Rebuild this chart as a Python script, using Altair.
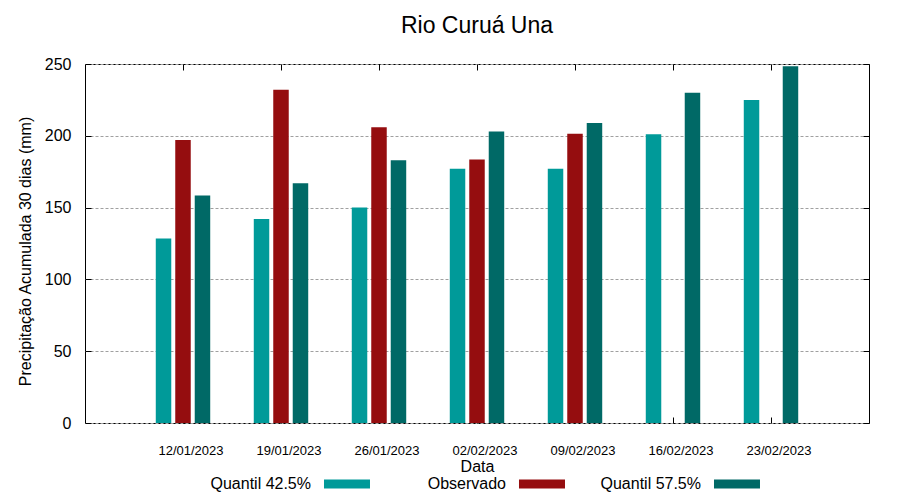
import altair as alt
import pandas as pd

dates = ["12/01/2023", "19/01/2023", "26/01/2023", "02/02/2023",
         "09/02/2023", "16/02/2023", "23/02/2023"]
series = ["Quantil 42.5%", "Observado", "Quantil 57.5%"]
q425 = [128.5, 142, 150, 177, 177, 201, 225]
obs = [197, 232, 206, 183.5, 201.5, None, None]
q575 = [158.5, 167, 183, 203, 209, 230, 248.5]
colors = ["#009a99", "#950d0f", "#006966"]
y_ticks = [0, 50, 100, 150, 200, 250]

rows = []
for s, vals in zip(series, [q425, obs, q575]):
    for d, v in zip(dates, vals):
        if v is not None:
            rows.append({"Data": d, "Serie": s, "Valor": v})
df = pd.DataFrame(rows)

FONT = "Liberation Sans"
NBSP = "\u00a0" * 5

xscale = alt.Scale(paddingInner=0.047, paddingOuter=0.5235)
yscale = alt.Scale(domain=[0, 250], nice=False)

bars = alt.Chart(df).mark_bar().encode(
    x=alt.X("Data:N", sort=dates, scale=xscale,
            axis=alt.Axis(title="Data", orient="bottom", labelAngle=0,
                          labelFontSize=13, labelFont=FONT, labelColor="black",
                          labelOffset=8, labelPadding=21, ticks=False, domain=False,
                          grid=False, titleFontSize=16, titleFont=FONT,
                          titleFontWeight="normal", titleColor="black",
                          titlePadding=1)),
    xOffset=alt.XOffset("Serie:N", sort=series,
                        scale=alt.Scale(paddingInner=0.205, paddingOuter=1)),
    y=alt.Y("Valor:Q", scale=yscale, stack=None,
            axis=alt.Axis(title="Precipitação Acumulada 30 dias (mm)", orient="left",
                          values=y_ticks, labelFontSize=16, labelFont=FONT,
                          labelColor="black", labelPadding=14, ticks=False,
                          domain=False, grid=True, gridColor="#a0a0a0",
                          gridDash=[3, 2], gridWidth=1, titleFontSize=16,
                          titleFont=FONT, titleFontWeight="normal",
                          titleColor="black", titlePadding=11, titleY=187)),
    color=alt.Color("Serie:N", sort=series,
                    scale=alt.Scale(domain=series, range=colors),
                    legend=alt.Legend(title=None, orient="none", legendX=180,
                                      legendY=397, direction="horizontal",
                                      columns=3,
                                      symbolType="M1.565,-0.196H3.565V0.196H1.565Z",
                                      symbolSize=2116, symbolStrokeWidth=0,
                                      symbolOpacity=1, labelAlign="right",
                                      labelOffset=0,
                                      labelExpr="datum.label == 'Observado' ? '" + NBSP + "Observado' : datum.label",
                                      labelFontSize=16,
                                      labelFont=FONT, labelColor="black",
                                      gridAlign="all", columnPadding=35,
                                      labelLimit=300)),
)


def tick_axis(orient, vals=None):
    kw = dict(orient=orient, labels=False, title=None, ticks=True, tickSize=6,
              tickColor="black", tickWidth=1, domain=False, grid=False, offset=-6)
    if vals is not None:
        kw["values"] = vals
    return alt.Axis(**kw)


inner1 = alt.Chart(df).mark_bar(opacity=0).encode(
    x=alt.X("Data:N", sort=dates, scale=xscale, axis=tick_axis("bottom")),
    y=alt.Y("Valor:Q", scale=yscale, stack=None, axis=tick_axis("left", y_ticks)),
)
inner2 = alt.Chart(df).mark_bar(opacity=0).encode(
    x=alt.X("Data:N", sort=dates, scale=xscale, axis=tick_axis("top")),
    y=alt.Y("Valor:Q", scale=yscale, stack=None, axis=tick_axis("right", y_ticks)),
)

chart = alt.layer(bars, inner1, inner2).resolve_axis(
    x="independent", y="independent"
).properties(
    width=784, height=359,
    title=alt.TitleParams("Rio Curuá Una", fontSize=23, font=FONT,
                          fontWeight="normal", offset=18, anchor="middle",
                          color="black"),
    autosize=alt.AutoSizeParams(type="none"),
    padding={"left": 77, "top": 56, "right": 23, "bottom": 69},
    background="white",
).configure_view(stroke="black", strokeWidth=1)

chart.save("out.html", embed_options={"renderer": "svg", "actions": False})
